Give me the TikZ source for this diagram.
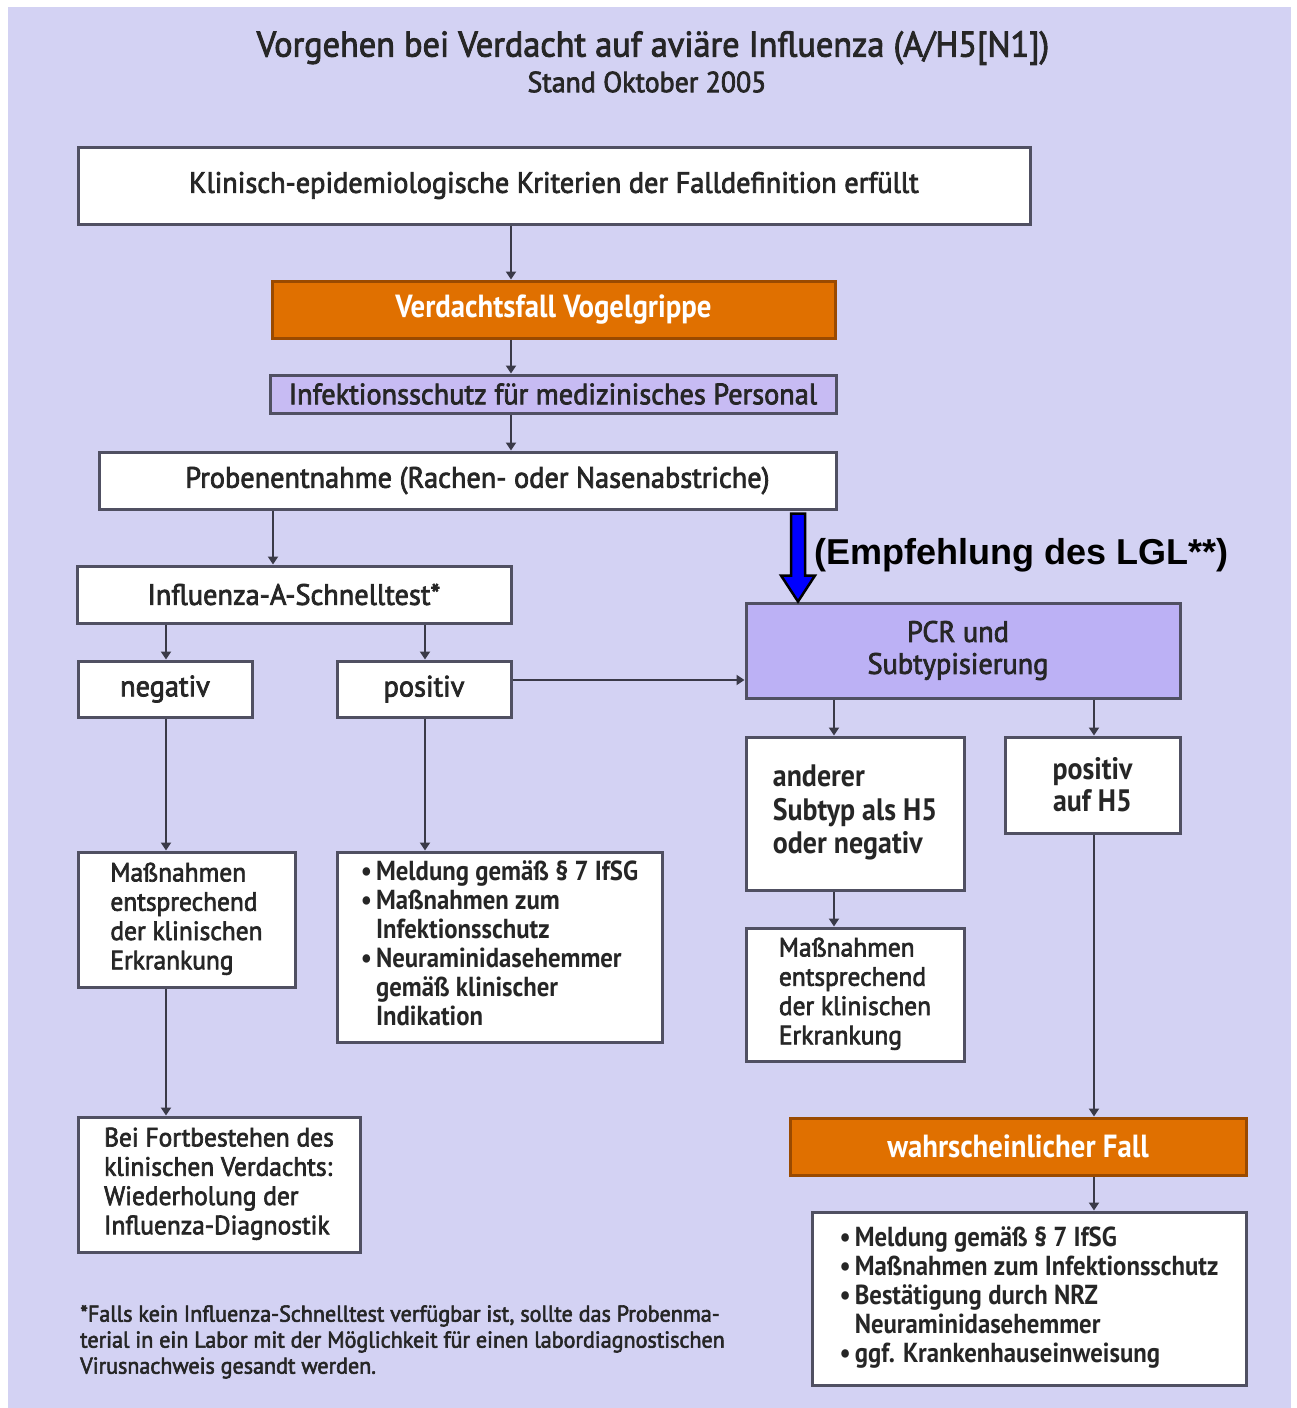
\documentclass[tikz,border=0pt]{standalone}
\usepackage{fontspec}
\setmainfont{PT Sans}[FakeStretch=0.96]
\newfontfamily\medf{PT Sans}[FakeStretch=0.96,FakeBold=2.5]
\newfontfamily\bolf{PT Sans}[FakeStretch=0.90]
\newfontfamily\arialf{Liberation Sans}
\usetikzlibrary{arrows.meta,calc,shadows}
\definecolor{bg}{HTML}{D3D2F3}
\definecolor{orng}{HTML}{E07000}
\definecolor{orngd}{HTML}{9A4A00}
\definecolor{lavA}{HTML}{C7BBF3}
\definecolor{lavB}{HTML}{BCB1F5}
\definecolor{bord}{HTML}{505062}
\definecolor{txt}{HTML}{262626}
\definecolor{lin}{HTML}{3A3A48}
\tikzset{
  box/.style={draw=bord, line width=3pt, fill=white, inner sep=0pt, text=txt, align=center,
    drop shadow={shadow xshift=2pt, shadow yshift=-2pt, fill=black, opacity=0.25},
    font=\medf\fontsize{29.5}{32}\selectfont},
  sbox/.style={box, font=\medf\fontsize{26.5}{29.3}\selectfont},
  bbox/.style={box, font=\bolf\bfseries\fontsize{27.5}{29}\selectfont},
  obox/.style={box, fill=orng, draw=orngd, text=white, font=\bolf\bfseries\fontsize{32}{34}\selectfont},
  arr/.style={draw=lin, line width=2.5pt, -{Triangle[length=8pt,width=10pt]}},
}
\begin{document}
\begin{tikzpicture}[x=1pt,y=-1pt]
\useasboundingbox (0,0) rectangle (1297,1408);
\fill[white] (0,0) rectangle (1297,1408);
\fill[bg] (8,7) rectangle (1291,1408);

% title
\node[font=\medf\fontsize{35.7}{40}\selectfont, text=txt] (title) at (653,48)
  {Vorgehen bei Verdacht auf aviäre Influenza (A/H5[N1])};
\node[font=\medf\fontsize{29}{30}\selectfont, text=txt] (stand) at (647,82) {Stand Oktober 2005};

% boxes
\node[box, minimum width=952pt, minimum height=77pt] (klin) at (554,185.5)
  {Klinisch-epidemiologische Kriterien der Falldefinition erfüllt};
\node[obox, minimum width=563pt, minimum height=57pt] (verd) at (553.5,309.5)
  {Verdachtsfall Vogelgrippe};
\node[box, fill=lavA, minimum width=566pt, minimum height=38pt] (inf) at (553,394)
  {Infektionsschutz für medizinisches Personal};
\node[box, minimum width=737pt, minimum height=57pt] (prob) at (467.5,480.5)
  {\hspace*{20pt}Probenentnahme (Rachen- oder Nasenabstriche)};
\node[box, minimum width=434pt, minimum height=57pt] (schnell) at (294,594.5)
  {Influenza-A-Schnelltest*};
\node[box, minimum width=174pt, minimum height=56pt] (neg) at (165,689) {negativ};
\node[box, minimum width=174pt, minimum height=56pt] (pos) at (424,689) {positiv};
\node[box, fill=lavB, minimum width=434pt, minimum height=95pt] (pcr) at (963,650.5)
  {PCR und\hspace*{10pt}\\Subtypisierung\hspace*{10pt}};
\node[box, minimum width=218pt, minimum height=153pt, font=\bolf\bfseries\fontsize{31}{33.5}\selectfont] (and) at (855,813.5)
  {\begin{tabular}{@{}l@{}}anderer\\Subtyp als H5\\oder negativ\end{tabular}};
\node[box, minimum width=175pt, minimum height=96pt, font=\bolf\bfseries\fontsize{31}{32}\selectfont] (h5) at (1092.5,785)
  {positiv\\auf H5};
\node[sbox, minimum width=217pt, minimum height=135pt] (massA) at (186.5,919.5)
  {\begin{tabular}{@{}l@{}}Maßnahmen\\entsprechend\\der klinischen\\Erkrankung\end{tabular}};
\node[bbox, minimum width=325pt, minimum height=190pt] (meld) at (499.5,947)
  {\begin{tabular}{@{}l@{\hspace{4pt}}l@{}}
   \textbullet & Meldung gemäß § 7 IfSG\\
   \textbullet & Maßnahmen zum\\
   & Infektionsschutz\\
   \textbullet & Neuraminidasehemmer\\
   & gemäß klinischer\\
   & Indikation
   \end{tabular}};
\node[sbox, minimum width=218pt, minimum height=133pt] (massB) at (855,994.5)
  {\begin{tabular}{@{}l@{}}Maßnahmen\\entsprechend\\der klinischen\\Erkrankung\end{tabular}};
\node[sbox, minimum width=282pt, minimum height=135pt] (bei) at (219,1184.5)
  {\begin{tabular}{@{}l@{}}Bei Fortbestehen des\\klinischen Verdachts:\\Wiederholung der\\Influenza-Diagnostik\end{tabular}};
\node[obox, minimum width=456pt, minimum height=57pt] (wahr) at (1018,1146.5)
  {wahrscheinlicher Fall};
\node[bbox, minimum width=434pt, minimum height=173pt] (bul) at (1029,1298.5)
  {\begin{tabular}{@{}l@{\hspace{4pt}}l@{}}
   \textbullet & Meldung gemäß § 7 IfSG\\
   \textbullet & Maßnahmen zum Infektionsschutz\\
   \textbullet & Bestätigung durch NRZ\\
   & Neuraminidasehemmer\\
   \textbullet & ggf. Krankenhauseinweisung
   \end{tabular}};

% footnote
\node[anchor=north west, inner sep=0pt, align=left, text=txt, font=\medf\fontsize{23}{26}\selectfont] (fn) at (80,1305)
  {*Falls kein Influenza-Schnelltest verfügbar ist, sollte das Probenma-\\terial in ein Labor mit der Möglichkeit für einen labordiagnostischen\\Virusnachweis gesandt werden.};

% column coordinates
\coordinate (cA) at (511,0);
\coordinate (cB) at (273,0);
\coordinate (cC) at (166,0);
\coordinate (cD) at (425,0);
\coordinate (cE) at (834,0);
\coordinate (cF) at (1094,0);
\coordinate (rA) at (0,680);
\coordinate (cG) at (798,0);

% connectors
\draw[arr] (klin.south -| cA) -- (verd.north -| cA);
\draw[arr] (verd.south -| cA) -- (inf.north -| cA);
\draw[arr] (inf.south -| cA) -- (prob.north -| cA);
\draw[arr] (prob.south -| cB) -- (schnell.north -| cB);
\draw[arr] (schnell.south -| cC) -- (neg.north -| cC);
\draw[arr] (schnell.south -| cD) -- (pos.north -| cD);
\draw[arr] (pos.east |- rA) -- (pcr.west |- rA);
\draw[arr] (pcr.south -| cE) -- (and.north -| cE);
\draw[arr] (pcr.south -| cF) -- (h5.north -| cF);
\draw[arr] (neg.south -| cC) -- (massA.north -| cC);
\draw[arr] (pos.south -| cD) -- (meld.north -| cD);
\draw[arr] (massA.south -| cC) -- (bei.north -| cC);
\draw[arr] (and.south -| cE) -- (massB.north -| cE);
\draw[arr] (h5.south -| cF) -- (wahr.north -| cF);
\draw[arr] (wahr.south -| cF) -- (bul.north -| cF);

% blue recommendation arrow
\path (prob.south -| cG) coordinate (b1) (pcr.north -| cG) coordinate (b2);
\filldraw[fill=blue, draw=black, line width=2.5pt, line join=miter]
  ($(b1)+(-7,3)$) -- ($(b2)+(-7,-26)$) -- ($(b2)+(-17,-26)$) -- (b2)
  -- ($(b2)+(17,-26)$) -- ($(b2)+(7,-26)$) -- ($(b1)+(7,3)$) -- cycle;
\node[anchor=west, inner sep=0pt, font=\arialf\bfseries\fontsize{36}{40}\selectfont] (lgl) at (814,555)
  {(Empfehlung des LGL**)};
\end{tikzpicture}
\end{document}
